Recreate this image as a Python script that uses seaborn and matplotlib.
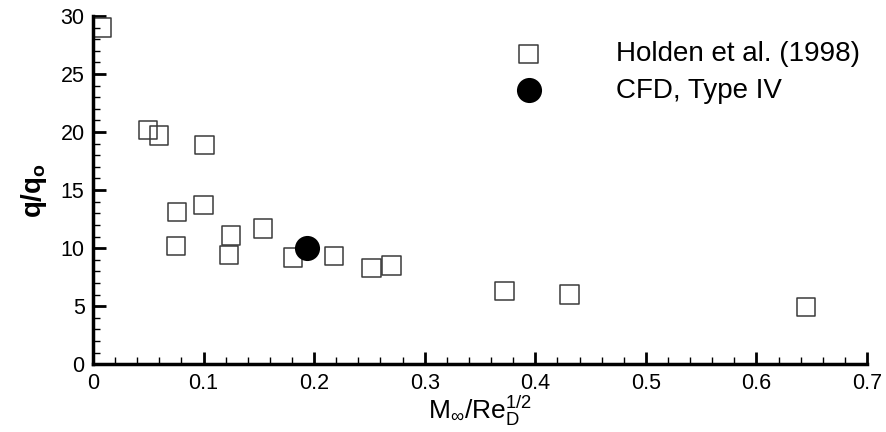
import numpy as np
import pandas as pd
import seaborn as sns
import matplotlib.pyplot as plt
from matplotlib.ticker import MultipleLocator

# Holden et al. (1998) experiment
holden_x = [0.008, 0.050, 0.060, 0.101, 0.076, 0.100, 0.075, 0.125, 0.123,
            0.154, 0.181, 0.218, 0.252, 0.270, 0.372, 0.431, 0.645]
holden_y = [29.0, 20.2, 19.7, 18.9, 13.1, 13.7, 10.2, 11.1, 9.4,
            11.7, 9.2, 9.3, 8.3, 8.5, 6.3, 6.0, 4.9]

# CFD, Type IV
cfd_x = [0.194]
cfd_y = [10.0]

sns.set_style("ticks", {'axes.edgecolor': 'black', 'text.color': 'black',
                        'xtick.color': 'black', 'ytick.color': 'black',
                        'axes.labelcolor': 'black'})
plt.rcParams['font.family'] = ['Liberation Sans', 'DejaVu Sans']
plt.rcParams['mathtext.fontset'] = 'custom'
plt.rcParams['mathtext.rm'] = 'Liberation Sans'
plt.rcParams['mathtext.it'] = 'Liberation Sans'
plt.rcParams['mathtext.bf'] = 'Liberation Sans:bold'

df_exp = pd.DataFrame({'x': holden_x, 'y': holden_y})
df_cfd = pd.DataFrame({'x': cfd_x, 'y': cfd_y})

fig = plt.figure(figsize=(8.87, 4.32), dpi=100)
ax = fig.add_axes([0.1048, 0.157, 0.8727, 0.806])

sns.scatterplot(data=df_exp, x='x', y='y', ax=ax, marker='s', s=175,
                facecolor='none', edgecolor='#3a3a3a', linewidth=1.1,
                label='Holden et al. (1998)', clip_on=False)
sns.scatterplot(data=df_cfd, x='x', y='y', ax=ax, marker='o', s=280,
                color='black', edgecolor='black', label='CFD, Type IV', zorder=5)

ax.set_xlim(0, 0.7)
ax.set_ylim(0, 30)
ax.xaxis.set_major_locator(MultipleLocator(0.1))
ax.xaxis.set_minor_locator(MultipleLocator(0.02))
ax.yaxis.set_major_locator(MultipleLocator(5))
ax.yaxis.set_minor_locator(MultipleLocator(1))
ax.set_xticks(np.arange(0, 0.71, 0.1))
ax.set_xticklabels(['0', '0.1', '0.2', '0.3', '0.4', '0.5', '0.6', '0.7'])

ax.tick_params(which='major', direction='in', length=9, width=2, labelsize=15.5, pad=6)
ax.tick_params(which='minor', direction='in', length=5, width=1)
sns.despine(ax=ax)
for sp in ['left', 'bottom']:
    ax.spines[sp].set_linewidth(2.5)

ax.set_xlabel(r'M$_{\infty}$/Re$_D^{1/2}$', fontsize=19, labelpad=0)
ax.set_ylabel(r'$\mathbf{q/q_o}$', fontsize=20, labelpad=8)

leg = ax.legend(loc='upper left', bbox_to_anchor=(0.527, 0.928), frameon=False,
                fontsize=20, handletextpad=2.15, labelspacing=0.38,
                markerscale=1.0, borderaxespad=0, borderpad=0)

fig.savefig('out.png', dpi=100)
